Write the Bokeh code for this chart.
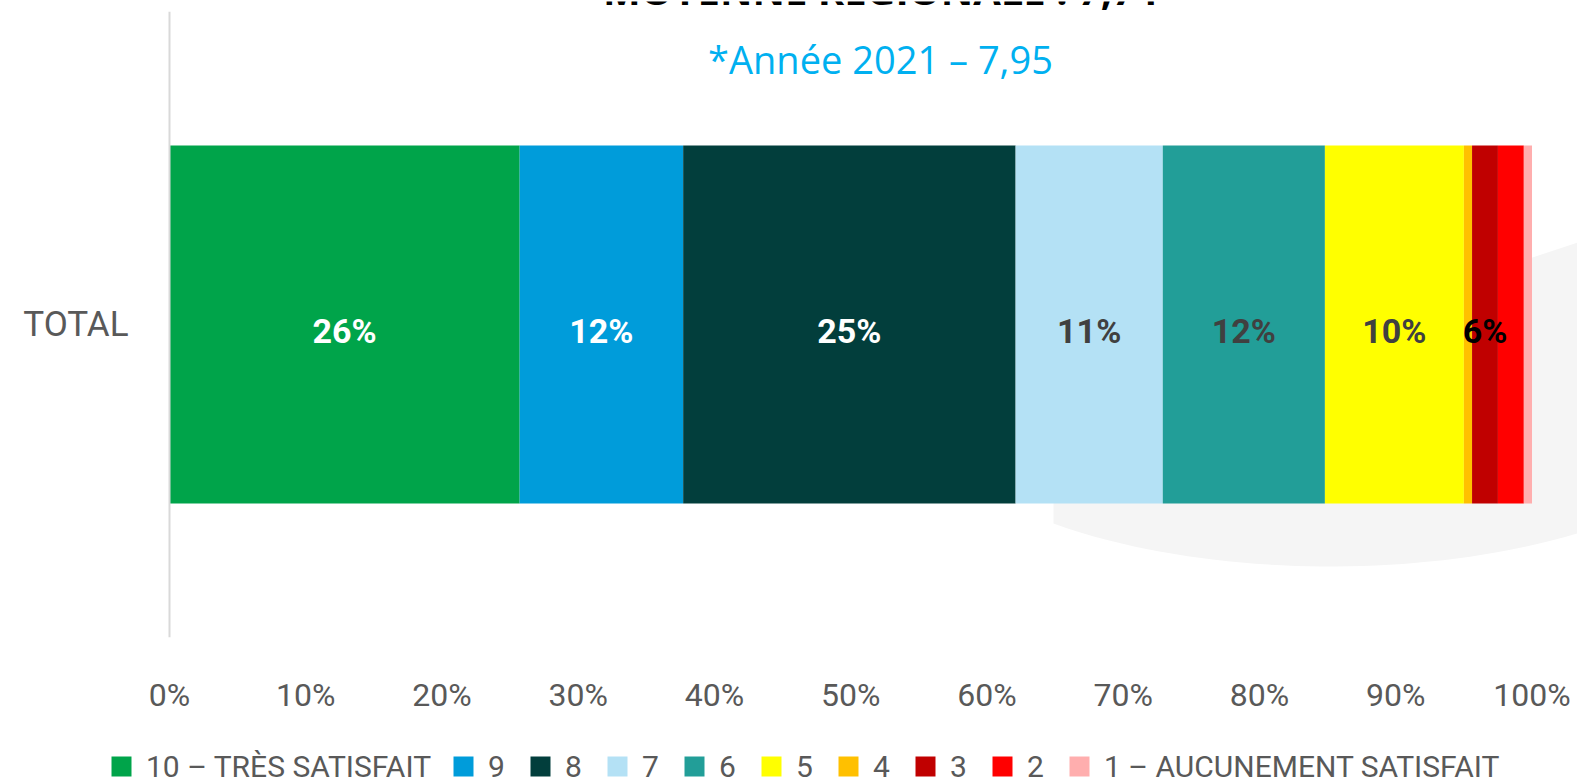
import numpy as np
from bokeh.plotting import figure
from bokeh.layouts import column
from bokeh.models import (ColumnDataSource, Range1d, FactorRange, FixedTicker,
                          PrintfTickFormatter, Label, Legend, LegendItem, PolyAnnotation)
from bokeh.core.properties import value
from bokeh.embed import file_html
from bokeh.resources import INLINE

# ---------------- data ----------------
categories = ["TOTAL"]
series = ["10 – TRÈS SATISFAIT", "9", "8", "7", "6", "5", "4", "3", "2",
          "1 – AUCUNEMENT SATISFAIT"]
values = [25.7, 12.0, 24.4, 10.8, 11.9, 10.2, 0.6, 1.9, 1.9, 0.6]
bar_labels = ["26%", "12%", "25%", "11%", "12%", "10%", "", "6%", "", ""]
x_ticks = [0, 10, 20, 30, 40, 50, 60, 70, 80, 90, 100]
title_text = "MOYENNE RÉGIONALE : 7,74"
subtitle_text = "*Année 2021 – 7,95"

# ---------------- styles ----------------
colors = ["#00A44A", "#009CDA", "#023E3C", "#B4E1F5", "#229E98",
          "#FFFF00", "#FFC000", "#C00000", "#FF0000", "#FFAEAE"]
label_colors = ["white", "white", "white", "#404040", "#404040",
                "#404040", "#404040", "black", "black", "black"]

W = 1577
H0, H2 = 11, 60                         # title strip / legend strip
H1 = 782 - H0 - H2                      # main chart
X0, X100 = 169, 1531.5                  # page pixels of 0 % and 100 %
FB = 637                                # page y of the plot frame bottom
px_per_unit = (X100 - X0) / 100.0

# ---------- title strip (only the lower edge of the title is visible) ----------
p0 = figure(width=W, height=H0, x_range=Range1d(0, 1), y_range=Range1d(0, 1),
            x_axis_type=None, y_axis_type=None, output_backend="svg",
            toolbar_location=None, min_border=0)
p0.outline_line_color = None
p0.grid.visible = False
p0.add_layout(Label(x=880, y=H0 + 12.3, x_units="screen", y_units="screen",
                    text=title_text, text_align="center", text_baseline="alphabetic",
                    text_font="Open Sans", text_font_style="bold",
                    text_font_size="40px", text_color="black"))

# ---------- main chart ----------
p = figure(width=W, height=H1,
           x_range=Range1d(-X0 / px_per_unit, (W - X0) / px_per_unit),
           y_range=FactorRange(factors=categories),
           output_backend="svg", toolbar_location=None,
           min_border_left=0, min_border_right=0,
           min_border_top=0, min_border_bottom=H0 + H1 - FB)
p.outline_line_color = None
p.grid.visible = False
p.background_fill_color = "white"
p.border_fill_color = "white"

# decorative light-grey shadow shape behind the bar (page px -> frame px)
cx = np.linspace(1577, 1053, 40)
cy = 566 - 173 * (1 - np.sqrt(1 - ((cx - 1330) / 420.0) ** 2))
sx_page = [1053, 1532, 1577] + list(cx)
sy_page = [300, 257, 242] + list(cy)
p.add_layout(PolyAnnotation(xs=list(sx_page), ys=[FB - y for y in sy_page],
                            xs_units="screen", ys_units="screen",
                            fill_color="#f5f5f5", fill_alpha=1.0,
                            line_color=None, level="underlay"))

# stacked bar
keys = [f"s{i}" for i in range(len(series))]
data = {"cat": categories}
for k, v in zip(keys, values):
    data[k] = [v]
src = ColumnDataSource(data)
bars = p.hbar_stack(stackers=keys, y="cat", height=0.572, source=src,
                    fill_color=colors, line_color=None)

# value labels
vals = np.array(values)
mids = np.cumsum(vals) - vals / 2
lab_src = ColumnDataSource(dict(x=mids, y=[categories[0]] * len(values),
                                text=bar_labels, color=label_colors))
p.text(x="x", y="y", text="text", text_color="color", source=lab_src,
       text_align="center", text_baseline="middle",
       text_font=value("Roboto"), text_font_style="bold",
       text_font_size="34px", y_offset=6)

# axes
xa = p.xaxis[0]
xa.ticker = FixedTicker(ticks=x_ticks)
xa.formatter = PrintfTickFormatter(format="%d%%")
xa.axis_line_color = None
xa.major_tick_line_color = None
xa.minor_tick_line_color = None
xa.major_tick_out = 0
xa.major_label_text_font = "Roboto"
xa.major_label_text_font_size = "32px"
xa.major_label_text_color = "#595959"
xa.major_label_standoff = 38

ya = p.yaxis[0]
ya.fixed_location = 0
ya.axis_line_color = "#D9D9D9"
ya.axis_line_width = 2
ya.major_tick_line_color = None
ya.minor_tick_line_color = None
ya.major_tick_out = 0
ya.major_label_text_font = "Roboto"
ya.major_label_text_font_size = "35px"
ya.major_label_text_color = "#595959"
ya.major_label_standoff = 41

# subtitle
p.add_layout(Label(x=880, y=(FB - H0) - (58.6 - H0), x_units="screen", y_units="screen",
                   text=subtitle_text, text_align="center", text_baseline="alphabetic",
                   text_font="Open Sans", text_font_size="38px", text_color="#00B0F0"))

# ---------- legend strip (square swatches) ----------
p2 = figure(width=W, height=H2, x_range=Range1d(0, 1), y_range=Range1d(0, 1),
            x_axis_type=None, y_axis_type=None,
            output_backend="svg", toolbar_location=None, min_border=0)
p2.outline_line_color = None
p2.grid.visible = False
items = []
for name, c in zip(series, colors):
    r = p2.scatter(x=[-10], y=[-10], marker="square", size=20, fill_color=c, line_color=None)
    items.append(LegendItem(label=name, renderers=[r]))
legend = Legend(items=items, orientation="horizontal", location=(96, -9),
                glyph_width=50, glyph_height=50, label_standoff=0, spacing=7,
                padding=0, margin=0, border_line_color=None, background_fill_alpha=0,
                label_text_font="Roboto", label_text_font_size="30px",
                label_text_color="#595959")
p2.add_layout(legend, "center")

layout = column(p0, p, p2, spacing=0)
open("out.html", "w").write(file_html(layout, INLINE))
